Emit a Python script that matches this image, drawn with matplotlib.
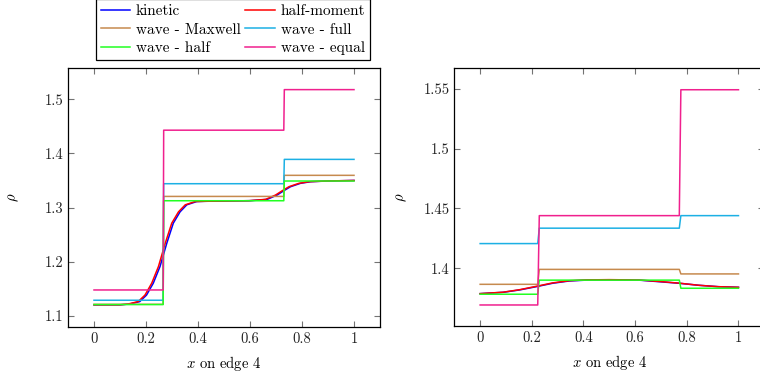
"""rho along edge 4: kinetic vs. half-moment vs. wave closures"""

import matplotlib.pyplot as plt
from matplotlib.ticker import FuncFormatter

plt.rcParams["font.family"] = ["cmr10", "DejaVu Serif"]
plt.rcParams["mathtext.fontset"] = "cm"
plt.rcParams["axes.formatter.use_mathtext"] = True
plt.rcParams["font.size"] = 10.5

labels = ["kinetic", "half-moment", "wave - Maxwell", "wave - full", "wave - half", "wave - equal"]
colors = ["#0000ff", "#ff0000", "#c68a4e", "#1cb0e4", "#22ff22", "#f0208e"]

# ---- left panel ----
left_kin_x = [0, 0.1, 0.138, 0.176, 0.202, 0.228, 0.254, 0.28, 0.305, 0.331, 0.357, 0.395, 0.43,
              0.5, 0.601, 0.666, 0.704, 0.73, 0.756, 0.794, 0.833, 0.897, 1.0]
left_kin_y = [1.12, 1.12, 1.1216, 1.126, 1.138, 1.16, 1.191, 1.234, 1.271, 1.292, 1.305, 1.311, 1.3115,
              1.312, 1.3126, 1.315, 1.323, 1.331, 1.3385, 1.3447, 1.3477, 1.349, 1.35]
left_hm_x = [0, 0.1, 0.132, 0.17, 0.196, 0.222, 0.248, 0.274, 0.299, 0.325, 0.351, 0.389, 0.425,
             0.5, 0.595, 0.66, 0.698, 0.724, 0.75, 0.788, 0.827, 0.891, 1.0]
left_hm_y = left_kin_y

left_jump = [0, 0.266, 0.268, 0.73, 0.732, 1.0]
left_max_y = [1.121, 1.121, 1.3205, 1.3205, 1.3595, 1.3595]
left_full_y = [1.1285, 1.1285, 1.344, 1.344, 1.389, 1.389]
left_half_y = [1.1205, 1.1205, 1.3125, 1.3125, 1.349, 1.349]
left_eq_y = [1.1475, 1.1475, 1.443, 1.443, 1.518, 1.518]

# ---- right panel ----
right_kin_x = [0, 0.089, 0.153, 0.217, 0.281, 0.345, 0.41, 0.5, 0.615, 0.692, 0.769, 0.846, 0.923, 1.0]
right_kin_y = [1.3787, 1.3798, 1.3818, 1.3845, 1.3874, 1.3893, 1.39, 1.3903, 1.39, 1.3887, 1.3874,
               1.3857, 1.3845, 1.384]
right_hm_y = [1.3787, 1.3799, 1.382, 1.3848, 1.3877, 1.3895, 1.3902, 1.3904, 1.3901, 1.3889, 1.3875,
              1.3857, 1.3845, 1.384]

right_jump = [0, 0.223, 0.229, 0.771, 0.777, 1.0]
right_max_y = [1.3865, 1.3865, 1.399, 1.399, 1.3952, 1.3952]
right_full_y = [1.4206, 1.4206, 1.4335, 1.4335, 1.444, 1.444]
right_half_y = [1.3782, 1.3782, 1.390, 1.390, 1.3832, 1.3832]
right_eq_y = [1.3692, 1.3692, 1.444, 1.444, 1.5494, 1.5494]

xticks = [0, 0.2, 0.4, 0.6, 0.8, 1]
left_yticks = [1.1, 1.2, 1.3, 1.4, 1.5]
right_yticks = [1.4, 1.45, 1.5, 1.55]


def fmt(v, pos):
    return f"{v:g}"


def style_axes(ax, yticks, ylim, ypad):
    ax.set_xlim(-0.1, 1.1)
    ax.set_ylim(*ylim)
    ax.set_xticks(xticks)
    ax.set_yticks(yticks)
    ax.xaxis.set_major_formatter(FuncFormatter(fmt))
    ax.yaxis.set_major_formatter(FuncFormatter(fmt))
    ax.tick_params(direction="in", length=4, width=0.8, color="0.45",
                   top=True, right=True, labelcolor="#222222")
    for s in ax.spines.values():
        s.set_linewidth(0.9)
    ax.set_xlabel(r"$x$ on edge 4", labelpad=6)
    ax.set_ylabel(r"$\rho$", labelpad=ypad)


fig = plt.figure(figsize=(7.6, 3.74), dpi=100)
ax1 = fig.add_axes([68 / 760, 47 / 374, 312 / 760, 259 / 374])
ax2 = fig.add_axes([454.3 / 760, 48 / 374, 310 / 760, 258 / 374])

lw = 1.1
left_series = [(left_kin_x, left_kin_y), (left_hm_x, left_hm_y), (left_jump, left_max_y),
               (left_jump, left_full_y), (left_jump, left_half_y), (left_jump, left_eq_y)]
right_series = [(right_kin_x, right_kin_y), (right_kin_x, right_hm_y), (right_jump, right_max_y),
                (right_jump, right_full_y), (right_jump, right_half_y), (right_jump, right_eq_y)]

handles = []
for (xs, ys), c, lab in zip(left_series, colors, labels):
    h, = ax1.plot(xs, ys, color=c, lw=lw, label=lab)
    handles.append(h)
for (xs, ys), c in zip(right_series, colors):
    ax2.plot(xs, ys, color=c, lw=lw)

style_axes(ax1, left_yticks, (1.079, 1.558), 17)
style_axes(ax2, right_yticks, (1.3516, 1.5676), 10)

# pgfplots fills legend row by row; matplotlib goes column by column
order = [0, 2, 4, 1, 3, 5]
leg = fig.legend([handles[i] for i in order], [labels[i] for i in order], ncol=2,
                 loc="lower center", bbox_to_anchor=(233 / 760, 1 - 68 / 374),
                 prop={"family": "cmr10", "size": 11},
                 frameon=True, fancybox=False, edgecolor="black", framealpha=1,
                 handlelength=1.9, handletextpad=0.4, columnspacing=0.3,
                 labelspacing=0.3, borderpad=0.35)
leg.get_frame().set_linewidth(0.9)

plt.savefig("out.png", dpi=100)
plt.close()
